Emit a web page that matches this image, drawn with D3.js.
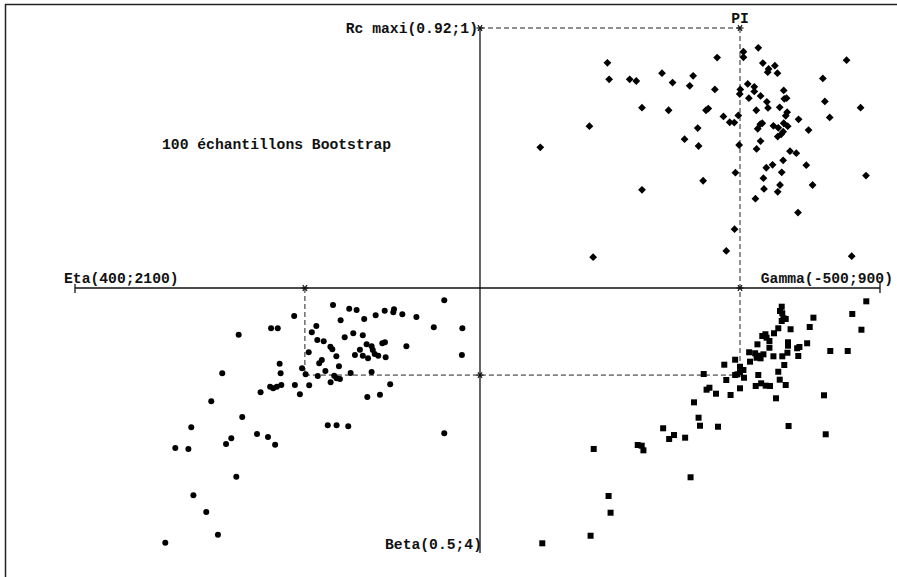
<!DOCTYPE html>
<html>
<head>
<meta charset="utf-8">
<script src="https://cdn.jsdelivr.net/npm/d3@7/dist/d3.min.js"></script>
<style>
  html, body { margin: 0; padding: 0; background: #fff; }
  svg { display: block; }
  text { font-family: "Liberation Mono", "Courier New", monospace; font-weight: bold; font-size: 14.7px; fill: #111; }
</style>
</head>
<body>
<svg id="chart" width="897" height="577"></svg>
<script>
// Parameter ranges (origin value ; far end value) for each half-axis
const gammaRange = [-500, 900];
const rcRange = [0.92, 1];
const etaRange = [400, 2100];
const betaRange = [0.5, 4];

// Reference parameter set (PI)
const piPoint = { gamma: 410, rc: 1.0, eta: 1135, beta: 1.65 };

const title = "100 échantillons Bootstrap";
const piLabel = "PI";

// Bootstrap estimates, upper right: [Gamma, Rc maxi]
const gammaRc = [
  [474,0.9939],[422,0.9927],[422,0.9910],[330,0.9909],[-54,0.9893],[783,0.9901],[490,0.9892],
  [532,0.9884],[510,0.9874],[507,0.9864],[541,0.9861],[-48,0.9842],[24,0.9842],[47,0.9837],
  [137,0.9861],[246,0.9853],[174,0.9832],[234,0.9822],[322,0.9811],[700,0.9845],[437,0.9828],
  [460,0.9819],[460,0.9805],[411,0.9811],[409,0.9797],[563,0.9808],[482,0.9791],[441,0.9784],
  [565,0.9782],[573,0.9784],[504,0.9773],[508,0.9754],[549,0.9756],[707,0.9774],[832,0.9755],
  [67,0.9755],[160,0.9747],[291,0.9747],[299,0.9752],[467,0.9747],[575,0.9741],[570,0.9730],
  [352,0.9728],[404,0.9731],[374,0.9710],[390,0.9709],[615,0.9719],[724,0.9725],[488,0.9707],
  [481,0.9704],[472,0.9690],[527,0.9699],[563,0.9707],[544,0.9693],[577,0.9698],[561,0.9681],
  [554,0.9673],[542,0.9666],[650,0.9686],[-117,0.9698],[262,0.9692],[216,0.9658],[265,0.9637],
  [407,0.9640],[482,0.9652],[468,0.9628],[-289,0.9633],[585,0.9621],[607,0.9615],[561,0.9593],
  [524,0.9579],[502,0.9570],[642,0.9578],[556,0.9556],[394,0.9555],[851,0.9546],[492,0.9538],
  [281,0.9530],[67,0.9502],[550,0.9517],[494,0.9505],[664,0.9517],[542,0.9496],[464,0.9475],
  [613,0.9432],[391,0.9381],[362,0.9314],[-104,0.9295],[801,0.9298]
];

// Bootstrap estimates, lower left: [Eta, Beta]
const etaBeta = [
  [1017,0.725],[949,0.773],[918,0.791],[1180,0.870],[1277,1.032],[1249,1.032],[1413,1.117],
  [985,0.927],[886,0.909],[838,0.861],[800,0.800],[761,0.781],[764,0.821],[726,0.847],
  [667,0.883],[550,0.662],[594,1.019],[474,1.032],[476,1.385],[1087,1.002],[1106,1.085],
  [1083,1.187],[1056,1.204],[968,1.151],[932,1.098],[892,1.125],[1028,1.275],[1020,1.310],
  [1003,1.402],[1119,1.349],[1064,1.451],[1075,1.495],[904,1.315],[892,1.394],[925,1.385],
  [876,1.244],[855,1.270],[850,1.319],[842,1.372],[827,1.394],[870,1.429],[810,1.230],
  [799,1.217],[796,1.415],[709,1.270],[992,1.534],[1049,1.596],[1147,1.561],[1132,1.640],
  [1081,1.662],[1012,1.658],[1002,1.693],[988,1.702],[1027,1.746],[943,1.623],[855,1.610],
  [1241,1.500],[1237,1.627],[1482,1.627],[1281,1.804],[1268,1.825],[1253,1.804],[1234,1.781],
  [1321,1.878],[1177,1.781],[1117,1.785],[1156,1.904],[777,1.772],[873,1.940],[820,1.909],
  [1528,1.996],[1398,2.204],[1612,2.340],[1039,2.313],[1002,2.313],[953,2.327],[550,2.419],
  [1336,2.428],[1290,2.468],[1260,2.570],[1444,2.485],[1466,2.560],[1679,2.613],[1624,2.626],
  [1423,2.992],[1603,3.238],[1549,3.459],[1500,3.758],[1721,3.864]
];

// Bootstrap estimates, lower right: [Gamma, Beta]
const gammaBeta = [
  [852,0.676],[803,0.843],[835,1.051],[667,0.892],[654,1.015],[556,0.747],[550,0.804],
  [558,0.834],[562,0.900],[570,0.909],[556,0.936],[587,1.045],[544,1.032],[529,1.098],
  [499,1.111],[488,1.134],[503,1.156],[513,1.200],[471,1.244],[513,1.289],[578,1.217],
  [578,1.262],[610,1.296],[618,1.279],[645,1.230],[614,1.398],[726,1.332],[787,1.332],
  [442,1.349],[463,1.362],[468,1.421],[482,1.429],[492,1.376],[474,1.394],[527,1.402],
  [558,1.402],[576,1.355],[445,1.473],[393,1.447],[355,1.513],[565,1.517],[544,1.606],
  [410,1.540],[422,1.583],[410,1.613],[393,1.649],[401,1.640],[424,1.685],[283,1.636],
  [362,1.715],[474,1.649],[549,1.711],[570,1.781],[484,1.759],[500,1.790],[515,1.794],
  [465,1.794],[410,1.825],[303,1.817],[293,1.843],[326,1.896],[377,1.913],[536,1.957],
  [704,1.917],[249,2.010],[265,2.213],[270,2.319],[333,2.332],[580,2.323],[710,2.432],
  [141,2.353],[179,2.442],[162,2.494],[218,2.477],[52,2.574],[66,2.583],[72,2.644],
  [-102,2.626],[237,3.000],[-50,3.247],[-43,3.468],[-113,3.772],[-282,3.872]
];

const svg = d3.select("#chart");
const cx = 480, cy = 288;

// Each half-axis starts at the common origin and runs outward
const xGamma = d3.scaleLinear().domain(gammaRange).range([cx, 880]);
const yRc = d3.scaleLinear().domain(rcRange).range([cy, 28]);
const xEta = d3.scaleLinear().domain(etaRange).range([cx, 75]);
const yBeta = d3.scaleLinear().domain(betaRange).range([cy, 553]);

// Page frame (top and left edges)
svg.append("line").attr("x1", 5).attr("y1", 4.5).attr("x2", 897).attr("y2", 4.5)
  .attr("stroke", "#222").attr("stroke-width", 1.5);
svg.append("line").attr("x1", 5.5).attr("y1", 4).attr("x2", 5.5).attr("y2", 577)
  .attr("stroke", "#222").attr("stroke-width", 1.5);

// Axes
const axes = svg.append("g").attr("stroke", "#111").attr("stroke-width", 1.3);
axes.append("line").attr("x1", xEta(etaRange[1])).attr("x2", xGamma(gammaRange[1]))
  .attr("y1", cy).attr("y2", cy);
axes.append("line").attr("x1", cx).attr("x2", cx)
  .attr("y1", yRc(rcRange[1])).attr("y2", yBeta(betaRange[1]));
// End ticks on the horizontal axis
axes.append("line").attr("x1", xEta(etaRange[1])).attr("x2", xEta(etaRange[1]))
  .attr("y1", cy - 4).attr("y2", cy + 5);
axes.append("line").attr("x1", xGamma(gammaRange[1])).attr("x2", xGamma(gammaRange[1]))
  .attr("y1", cy - 5).attr("y2", cy + 5);

// Dashed guides through the reference parameter set
const px = xGamma(piPoint.gamma), py = yRc(piPoint.rc);
const ex = xEta(piPoint.eta), by = yBeta(piPoint.beta);
const guides = svg.append("g").attr("stroke", "#222").attr("stroke-width", 1)
  .attr("stroke-dasharray", "5,3").attr("fill", "none");
guides.append("line").attr("x1", cx).attr("y1", py).attr("x2", px).attr("y2", py);
guides.append("line").attr("x1", px).attr("y1", py).attr("x2", px).attr("y2", by);
guides.append("line").attr("x1", ex).attr("y1", cy).attr("x2", ex).attr("y2", by);
guides.append("line").attr("x1", ex).attr("y1", by).attr("x2", px).attr("y2", by);

// Asterisk markers where the reference set meets each axis
const star = svg.append("g").attr("stroke", "#111").attr("stroke-width", 1.2);
[[cx, py], [px, py], [ex, cy], [px, cy], [cx, by]].forEach(([x, y]) => {
  const r = 3.5;
  star.append("line").attr("x1", x - r).attr("x2", x + r).attr("y1", y).attr("y2", y);
  star.append("line").attr("x1", x - r * 0.6).attr("x2", x + r * 0.6).attr("y1", y - r * 0.8).attr("y2", y + r * 0.8);
  star.append("line").attr("x1", x + r * 0.6).attr("x2", x - r * 0.6).attr("y1", y - r * 0.8).attr("y2", y + r * 0.8);
});

// Upper right: diamonds
svg.append("g").selectAll("path").data(gammaRc).join("path")
  .attr("transform", d => `translate(${xGamma(d[0])},${yRc(d[1])})`)
  .attr("d", "M0,-3.9L3.9,0L0,3.9L-3.9,0Z")
  .attr("fill", "#000");

// Lower left: dots
svg.append("g").selectAll("circle").data(etaBeta).join("circle")
  .attr("cx", d => xEta(d[0])).attr("cy", d => yBeta(d[1]))
  .attr("r", 3).attr("fill", "#000");

// Lower right: squares
svg.append("g").selectAll("rect").data(gammaBeta).join("rect")
  .attr("x", d => xGamma(d[0]) - 3).attr("y", d => yBeta(d[1]) - 3)
  .attr("width", 6).attr("height", 6).attr("fill", "#000");

// Axis labels
svg.append("text").attr("x", cx - 2).attr("y", 33).attr("text-anchor", "end")
  .text(`Rc maxi(${rcRange[0]};${rcRange[1]})`);
svg.append("text").attr("x", 64).attr("y", 283)
  .text(`Eta(${etaRange[0]};${etaRange[1]})`);
svg.append("text").attr("x", 893).attr("y", 283).attr("text-anchor", "end")
  .text(`Gamma(${gammaRange[0]};${gammaRange[1]})`);
svg.append("text").attr("x", cx + 2).attr("y", 549).attr("text-anchor", "end")
  .text(`Beta(${betaRange[0]};${betaRange[1]})`);
svg.append("text").attr("x", px).attr("y", 23).attr("text-anchor", "middle").text(piLabel);
svg.append("text").attr("x", 162).attr("y", 149).text(title);
</script>
</body>
</html>
